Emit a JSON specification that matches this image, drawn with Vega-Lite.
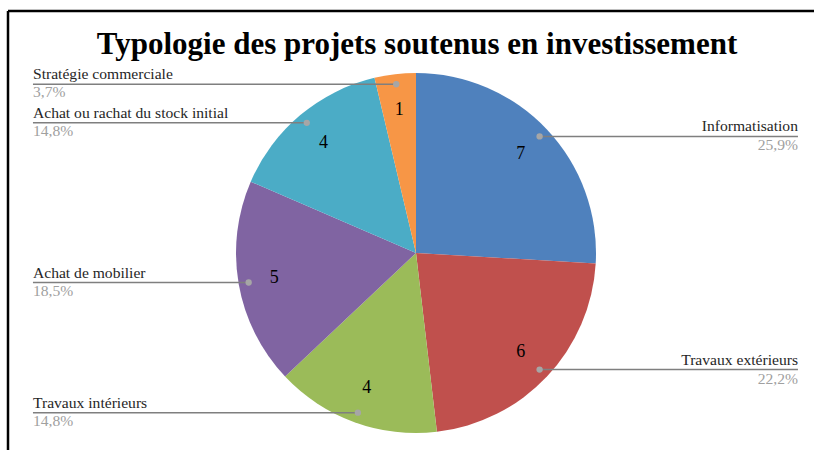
{
  "$schema": "https://vega.github.io/schema/vega-lite/v6.json",
  "autosize": "none",
  "padding": {"left": 8, "top": 11, "right": 0, "bottom": 0},
  "width": 806,
  "height": 439,
  "background": "white",
  "config": {"view": {"stroke": null}},
  "title": {
    "text": "Typologie des projets soutenus en investissement",
    "font": "Liberation Serif",
    "fontSize": 31,
    "fontWeight": "bold",
    "color": "black",
    "anchor": "middle",
    "baseline": "alphabetic",
    "dx": 6,
    "offset": -75
  },
  "data": {
    "values": [
      {"categorie": "Informatisation", "projets": 7},
      {"categorie": "Travaux extérieurs", "projets": 6},
      {"categorie": "Travaux intérieurs", "projets": 4},
      {"categorie": "Achat de mobilier", "projets": 5},
      {"categorie": "Achat ou rachat du stock initial", "projets": 4},
      {"categorie": "Stratégie commerciale", "projets": 1}
    ]
  },
  "transform": [
    {"window": [{"op": "row_number", "as": "rang"}]},
    {"window": [{"op": "sum", "field": "projets", "as": "cumul"}], "sort": [{"field": "rang"}], "frame": [null, 0]},
    {"joinaggregate": [{"op": "sum", "field": "projets", "as": "total"}]},
    {"calculate": "(datum.cumul - datum.projets) / datum.total", "as": "a0"},
    {"calculate": "datum.cumul / datum.total", "as": "a1"},
    {"calculate": "PI * (datum.a0 + datum.a1)", "as": "mid"},
    {"calculate": "0.944 * sin(datum.mid)", "as": "px"},
    {"calculate": "0.944 * cos(datum.mid)", "as": "py"},
    {"calculate": "0.80 * sin(datum.mid)", "as": "nx"},
    {"calculate": "0.80 * cos(datum.mid)", "as": "ny"},
    {"calculate": "sin(datum.mid) > 0 ? 'droite' : 'gauche'", "as": "cote"},
    {"calculate": "sin(datum.mid) > 0 ? 2.122 : -2.128", "as": "lx"},
    {"calculate": "replace(format(datum.projets / datum.total, '.1%'), '.', ',')", "as": "pct"}
  ],
  "layer": [
    {
      "mark": {"type": "arc", "outerRadius": 180},
      "encoding": {
        "x": {"datum": 0, "type": "quantitative", "scale": {"domain": [-2.2667, 2.2111], "nice": false, "zero": false}, "axis": null},
        "y": {"datum": 0, "type": "quantitative", "scale": {"domain": [-1.0944, 1.3444], "nice": false, "zero": false}, "axis": null},
        "theta": {"field": "a0", "type": "quantitative", "scale": {"domain": [0, 1], "range": [0, 6.283185307]}},
        "theta2": {"field": "a1"},
        "color": {
          "field": "categorie",
          "type": "nominal",
          "legend": null,
          "scale": {
            "domain": ["Informatisation", "Travaux extérieurs", "Travaux intérieurs", "Achat de mobilier", "Achat ou rachat du stock initial", "Stratégie commerciale"],
            "range": ["#4F81BD", "#C0504D", "#9BBB59", "#8064A2", "#4BACC6", "#F79646"]
          }
        }
      }
    },
    {
      "mark": {"type": "rule", "color": "#7F7F7F", "strokeWidth": 1.5},
      "encoding": {
        "x": {"field": "px", "type": "quantitative"},
        "x2": {"field": "lx"},
        "y": {"field": "py", "type": "quantitative"}
      }
    },
    {
      "mark": {"type": "point", "filled": true, "color": "#A6A6A6", "opacity": 1, "size": 40},
      "encoding": {
        "x": {"field": "px", "type": "quantitative"},
        "y": {"field": "py", "type": "quantitative"}
      }
    },
    {
      "mark": {"type": "text", "font": "Liberation Serif", "fontSize": 18, "color": "black", "align": "center", "baseline": "middle"},
      "encoding": {
        "x": {"field": "nx", "type": "quantitative"},
        "y": {"field": "ny", "type": "quantitative"},
        "text": {"field": "projets", "type": "quantitative"}
      }
    },
    {
      "transform": [{"filter": "datum.cote == 'droite'"}],
      "layer": [
        {
          "mark": {"type": "text", "font": "Liberation Serif", "fontSize": 15.6, "color": "#262626", "align": "right", "baseline": "alphabetic", "dy": -5},
          "encoding": {
            "x": {"field": "lx", "type": "quantitative"},
            "y": {"field": "py", "type": "quantitative"},
            "text": {"field": "categorie"}
          }
        },
        {
          "mark": {"type": "text", "font": "Liberation Serif", "fontSize": 15.6, "color": "#A0A0A0", "align": "right", "baseline": "alphabetic", "dy": 14},
          "encoding": {
            "x": {"field": "lx", "type": "quantitative"},
            "y": {"field": "py", "type": "quantitative"},
            "text": {"field": "pct"}
          }
        }
      ]
    },
    {
      "transform": [{"filter": "datum.cote == 'gauche'"}],
      "layer": [
        {
          "mark": {"type": "text", "font": "Liberation Serif", "fontSize": 15.6, "color": "#262626", "align": "left", "baseline": "alphabetic", "dy": -5},
          "encoding": {
            "x": {"field": "lx", "type": "quantitative"},
            "y": {"field": "py", "type": "quantitative"},
            "text": {"field": "categorie"}
          }
        },
        {
          "mark": {"type": "text", "font": "Liberation Serif", "fontSize": 15.6, "color": "#A0A0A0", "align": "left", "baseline": "alphabetic", "dy": 13},
          "encoding": {
            "x": {"field": "lx", "type": "quantitative"},
            "y": {"field": "py", "type": "quantitative"},
            "text": {"field": "pct"}
          }
        }
      ]
    },
    {
      "data": {"values": [{"bord": "gauche"}]},
      "mark": {"type": "rule", "color": "black", "strokeWidth": 2.5},
      "encoding": {"x": {"datum": -2.2667, "type": "quantitative"}}
    },
    {
      "data": {"values": [{"bord": "haut"}]},
      "mark": {"type": "rule", "color": "black", "strokeWidth": 2.5},
      "encoding": {"y": {"datum": 1.3444, "type": "quantitative"}}
    }
  ]
}
